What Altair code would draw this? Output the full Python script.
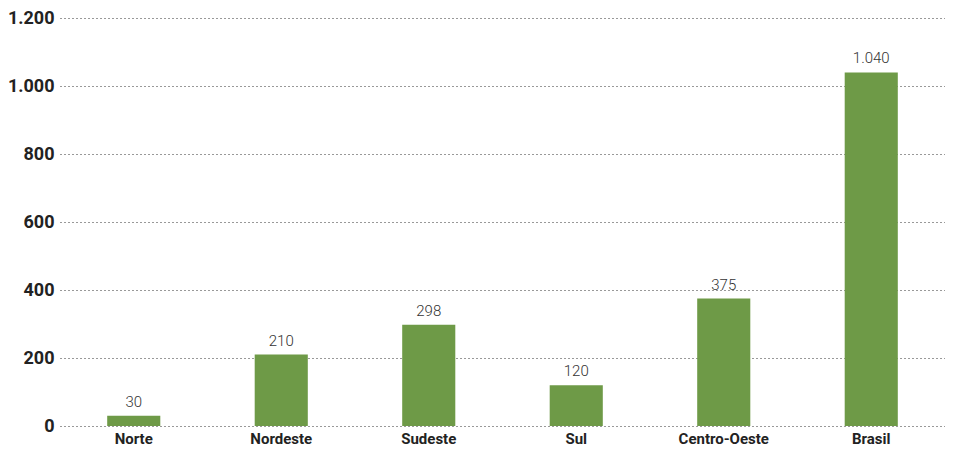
import altair as alt
import pandas as pd

regions = ["Norte", "Nordeste", "Sudeste", "Sul", "Centro-Oeste", "Brasil"]
values = [30, 210, 298, 120, 375, 1040]
y_ticks = [0, 200, 400, 600, 800, 1000, 1200]

df = pd.DataFrame({"regiao": regions, "valor": values})

FONT = "Roboto, sans-serif"

base = alt.Chart(df).encode(
    x=alt.X("regiao:N", sort=regions,
            scale=alt.Scale(paddingInner=0.64, paddingOuter=0.32),
            axis=alt.Axis(title=None, labelAngle=0, domain=False, ticks=False,
                          labelFont=FONT, labelFontSize=15, labelFontWeight="bold",
                          labelColor="#222222", labelPadding=5)),
)

bars = base.mark_bar(color="#6e9a47").encode(
    y=alt.Y("valor:Q", scale=alt.Scale(domain=[0, 1200], nice=False),
            axis=alt.Axis(title=None, values=y_ticks, domain=False, ticks=False,
                          grid=True, gridDash=[1, 3], gridColor="#333333", gridWidth=1,
                          labelFont=FONT, labelFontSize=18, labelFontWeight="bold",
                          labelColor="#222222", labelPadding=6,
                          labelExpr="replace(format(datum.value, ','), ',', '.')"))
)

labels = base.transform_calculate(
    lbl="replace(format(datum.valor, ','), ',', '.')"
).mark_text(baseline="bottom", dy=-6, font=FONT, fontSize=15, fontWeight=300,
            color="#333333").encode(
    y=alt.Y("valor:Q"),
    text="lbl:N",
)

chart = alt.layer(bars, labels).properties(
    width=885, height=408,
    autosize=alt.AutoSizeParams(type="none"),
    padding={"left": 52, "top": 10, "right": 0, "bottom": 25},
).configure_view(stroke=None)

chart.save("out.html", embed_options={"renderer": "svg", "actions": False})
